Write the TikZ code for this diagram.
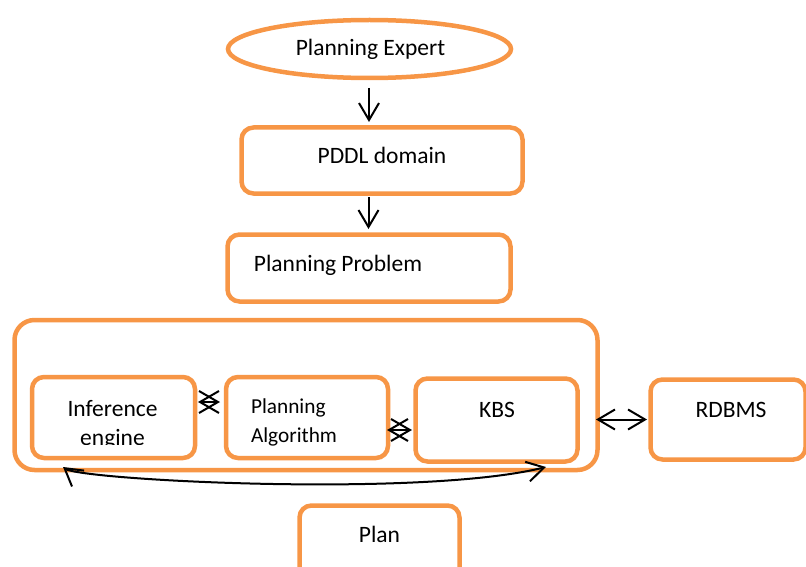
\documentclass[tikz,border=0pt]{standalone}
\usepackage{fontspec}
\setmainfont{Carlito}
\usetikzlibrary{shapes.geometric,arrows.meta,calc}
\definecolor{orng}{HTML}{F79646}
\begin{document}
\begin{tikzpicture}[x=1pt,y=-1pt,
  box/.style={draw=orng,line width=4.5pt,rounded corners=12pt,inner sep=0,outer sep=0,fill=white},
  lbl/.style={inner sep=0,outer sep=0,anchor=base,font=\fontsize{23.5}{28.7}\selectfont},
  slbl/.style={inner sep=0,outer sep=0,anchor=base west,font=\fontsize{21.3}{26}\selectfont},
  arr/.style={line width=2pt,-{Straight Barb[length=17pt,width=20pt]}},
  dbl/.style={line width=2pt,{Straight Barb[length=17pt,width=20pt]}-{Straight Barb[length=17pt,width=20pt]}},
  xarr/.style={line width=2pt,{Straight Barb[length=19pt,width=22pt]}-{Straight Barb[length=19pt,width=22pt]}}]
\clip (0,0) rectangle (806,567);
% boxes
\node[box,ellipse,rounded corners=0pt,minimum width=283pt,minimum height=58pt] (exp) at (369.5,49) {};
\node[box,minimum width=281pt,minimum height=66pt] (pddl) at (382,160.5) {};
\node[box,minimum width=283pt,minimum height=67pt] (prob) at (369,268) {};
\node[box,rounded corners=20pt,minimum width=583pt,minimum height=150pt] (outer) at (306,395) {};
\node[box,minimum width=163pt,minimum height=81pt] (inf) at (113.5,417.5) {};
\node[box,minimum width=162pt,minimum height=81pt] (alg) at (307,417.5) {};
\node[box,minimum width=162pt,minimum height=83pt] (kbs) at (496.5,420) {};
\node[box,minimum width=155pt,minimum height=80pt] (rdb) at (728,419.5) {};
\node[box,minimum width=160pt,minimum height=80pt] (plan) at (379.5,545.5) {};
% labels
\node[lbl] (texp) at (370.5,56) {Planning Expert};
\node[lbl] (tpddl) at (382,164) {PDDL domain};
\node[lbl] (tprob) at (338,271) {Planning Problem};
\node[lbl] (tinf) at (112.5,416) {Inference};
\begin{scope}
\clip (36,381) rectangle (191,444);
\node[lbl] (teng) at (112.5,445) {engine};
\end{scope}
\node[slbl] (talg1) at (251,413) {Planning};
\node[slbl] (talg2) at (251,442) {Algorithm};
\node[lbl] (tkbs) at (497,417) {KBS};
\node[lbl] (trdb) at (731,417) {RDBMS};
\node[lbl] (tplan) at (379.5,542) {Plan};
% connectors
\draw[arr] ($(exp.south)+(-0.5,10)$) -- ($(exp.south |- pddl.north)+(-0.5,-5.5)$);
\draw[arr] ($(pddl.south -| exp.south)+(-1,3.5)$) -- ($(exp.south |- prob.north)+(-1,-5.5)$);
\draw[dbl] ([xshift=-1.5pt]outer.east |- rdb.west) -- ([xshift=-3.5pt]rdb.west);
\draw[xarr] ([xshift=3pt,yshift=15.5pt]inf.east) -- ([xshift=-6pt,yshift=15.5pt]alg.west);
\draw[xarr] ([xshift=-1pt,yshift=-12.5pt]alg.east) -- ([xshift=-3.5pt,yshift=-10pt]kbs.west);
\coordinate (cl) at (63,467);
\coordinate (cr) at (546,467);
\draw[dbl] (cl) .. controls (80,480) and (420,498) .. (cr);
\end{tikzpicture}
\end{document}
